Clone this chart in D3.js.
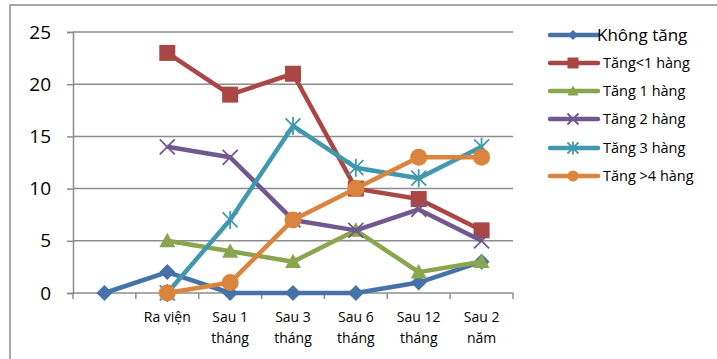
<!DOCTYPE html>
<html>
<head>
<meta charset="utf-8">
<script src="https://cdn.jsdelivr.net/npm/d3@7"></script>
<style>
  body { margin: 0; background: #fff; }
  svg { display: block; font-family: "Open Sans", "Noto Sans", sans-serif; }
</style>
</head>
<body>
<div id="chart"></div>
<script>
// data
const categories = ["", "Ra viện", "Sau 1\ntháng", "Sau 3\ntháng", "Sau 6\ntháng", "Sau 12\ntháng", "Sau 2\nnăm"];
const khongTang = [0, 2, 0, 0, 0, 1, 3];
const tangDuoi1 = [null, 23, 19, 21, 10, 9, 6];
const tang1 = [null, 5, 4, 3, 6, 2, 3];
const tang2 = [null, 14, 13, 7, 6, 8, 5];
const tang3 = [null, 0, 7, 16, 12, 11, 14];
const tangTren4 = [null, 0, 1, 7, 10, 13, 13];
const yTicks = [0, 5, 10, 15, 20, 25];

const series = [
  { name: "Không tăng", values: khongTang, color: "#4572A7", marker: "diamond" },
  { name: "Tăng<1 hàng", values: tangDuoi1, color: "#AA4643", marker: "square" },
  { name: "Tăng 1 hàng", values: tang1, color: "#89A54E", marker: "triangle" },
  { name: "Tăng 2 hàng", values: tang2, color: "#71588F", marker: "x" },
  { name: "Tăng 3 hàng", values: tang3, color: "#4198AF", marker: "star" },
  { name: "Tăng >4 hàng", values: tangTren4, color: "#DB843D", marker: "circle" }
];

const W = 717, H = 359;
const plot = { left: 73, right: 513, top: 32, bottom: 293 };

const svg = d3.select("#chart").append("svg")
  .attr("width", W)
  .attr("height", H);

// outer frame (chart border, cut by the window)
svg.append("path")
  .attr("d", `M10,${H + 2} L10,5 L${W + 2},5`)
  .attr("fill", "none")
  .attr("stroke", "#8c8c8c")
  .attr("stroke-width", 1.5);

const x = d3.scaleBand()
  .domain(d3.range(categories.length))
  .range([plot.left, plot.right]);

const y = d3.scaleLinear()
  .domain([0, 25])
  .range([plot.bottom, plot.top]);

// gridlines
svg.append("g")
  .selectAll("line")
  .data(yTicks.filter(d => d > 0))
  .enter().append("line")
  .attr("x1", plot.left)
  .attr("x2", plot.right)
  .attr("y1", d => y(d))
  .attr("y2", d => y(d))
  .attr("stroke", "#8c8c8c")
  .attr("stroke-width", 1.5);

// y axis
const yAxis = svg.append("g")
  .attr("transform", `translate(${plot.left},0)`)
  .call(d3.axisLeft(y).tickValues(yTicks).tickSize(6).tickPadding(16));
yAxis.select(".domain").attr("stroke", "#8c8c8c").attr("stroke-width", 1.5);
yAxis.selectAll(".tick line").attr("stroke", "#8c8c8c").attr("stroke-width", 1.5);
yAxis.selectAll(".tick text")
  .attr("fill", "#000")
  .style("font-size", "19px")
  .style("font-family", "'Open Sans', sans-serif");

// x axis: ticks at category boundaries
const xAxis = svg.append("g");
xAxis.append("line")
  .attr("x1", plot.left).attr("x2", plot.right)
  .attr("y1", plot.bottom).attr("y2", plot.bottom)
  .attr("stroke", "#8c8c8c").attr("stroke-width", 1.5);
xAxis.selectAll(".xtick")
  .data(d3.range(categories.length + 1))
  .enter().append("line")
  .attr("class", "xtick")
  .attr("x1", i => plot.left + i * x.step())
  .attr("x2", i => plot.left + i * x.step())
  .attr("y1", plot.bottom)
  .attr("y2", plot.bottom + 6)
  .attr("stroke", "#8c8c8c").attr("stroke-width", 1.5);

const xLabels = xAxis.selectAll(".xlabel")
  .data(categories)
  .enter().append("text")
  .attr("class", "xlabel")
  .attr("x", (d, i) => x(i) + x.bandwidth() / 2)
  .attr("y", plot.bottom + 29)
  .attr("text-anchor", "middle")
  .style("font-size", "14px")
  .attr("fill", "#000");
xLabels.each(function(d) {
  d.split("\n").forEach((line, k) => {
    d3.select(this).append("tspan")
      .attr("x", d3.select(this).attr("x"))
      .attr("dy", k === 0 ? 0 : 21)
      .text(line);
  });
});

// markers
function drawMarker(g, type, color, cx, cy, s) {
  if (type === "diamond") {
    g.append("path")
      .attr("d", `M${cx},${cy - s} L${cx + s},${cy} L${cx},${cy + s} L${cx - s},${cy} Z`)
      .attr("fill", color);
  } else if (type === "square") {
    g.append("rect")
      .attr("x", cx - s).attr("y", cy - s)
      .attr("width", 2 * s).attr("height", 2 * s)
      .attr("fill", color);
  } else if (type === "triangle") {
    g.append("path")
      .attr("d", `M${cx},${cy - s} L${cx + s},${cy + s * 0.8} L${cx - s},${cy + s * 0.8} Z`)
      .attr("fill", color);
  } else if (type === "x") {
    g.append("path")
      .attr("d", `M${cx - s},${cy - s} L${cx + s},${cy + s} M${cx - s},${cy + s} L${cx + s},${cy - s}`)
      .attr("stroke", color).attr("stroke-width", 1.8);
  } else if (type === "star") {
    g.append("path")
      .attr("d", `M${cx - s},${cy - s} L${cx + s},${cy + s} M${cx - s},${cy + s} L${cx + s},${cy - s} M${cx},${cy - s * 1.2} L${cx},${cy + s * 1.2}`)
      .attr("stroke", color).attr("stroke-width", 1.8);
  } else if (type === "circle") {
    g.append("circle")
      .attr("cx", cx).attr("cy", cy).attr("r", s)
      .attr("fill", color);
  }
}

const markerSize = { diamond: 8, square: 8, triangle: 8, x: 7.5, star: 7.5, circle: 8.5 };

const line = d3.line()
  .defined(d => d.v !== null)
  .x(d => x(d.i) + x.bandwidth() / 2)
  .y(d => y(d.v));

series.forEach(s => {
  const pts = s.values.map((v, i) => ({ i, v }));
  const g = svg.append("g");
  g.append("path")
    .datum(pts)
    .attr("fill", "none")
    .attr("stroke", s.color)
    .attr("stroke-width", 4.5)
    .attr("stroke-linejoin", "round")
    .attr("d", line);
  pts.filter(d => d.v !== null).forEach(d => {
    drawMarker(g, s.marker, s.color, x(d.i) + x.bandwidth() / 2, y(d.v), markerSize[s.marker]);
  });
});

// legend
const legend = svg.append("g");
const legendY = [35, 63, 91, 119, 148, 176];
series.forEach((s, k) => {
  const ly = legendY[k];
  legend.append("line")
    .attr("x1", 550).attr("x2", 598)
    .attr("y1", ly).attr("y2", ly)
    .attr("stroke", s.color)
    .attr("stroke-width", 4.5)
    .attr("stroke-linecap", "round");
  drawMarker(legend, s.marker, s.color, 573, ly, k === 0 ? 5 : 5.5);
  legend.append("text")
    .attr("x", k === 0 ? 597 : 603)
    .attr("y", ly)
    .attr("dy", "0.35em")
    .style("font-size", k === 0 ? "17px" : "14.5px")
    .attr("fill", "#000")
    .text(s.name);
});
</script>
</body>
</html>
